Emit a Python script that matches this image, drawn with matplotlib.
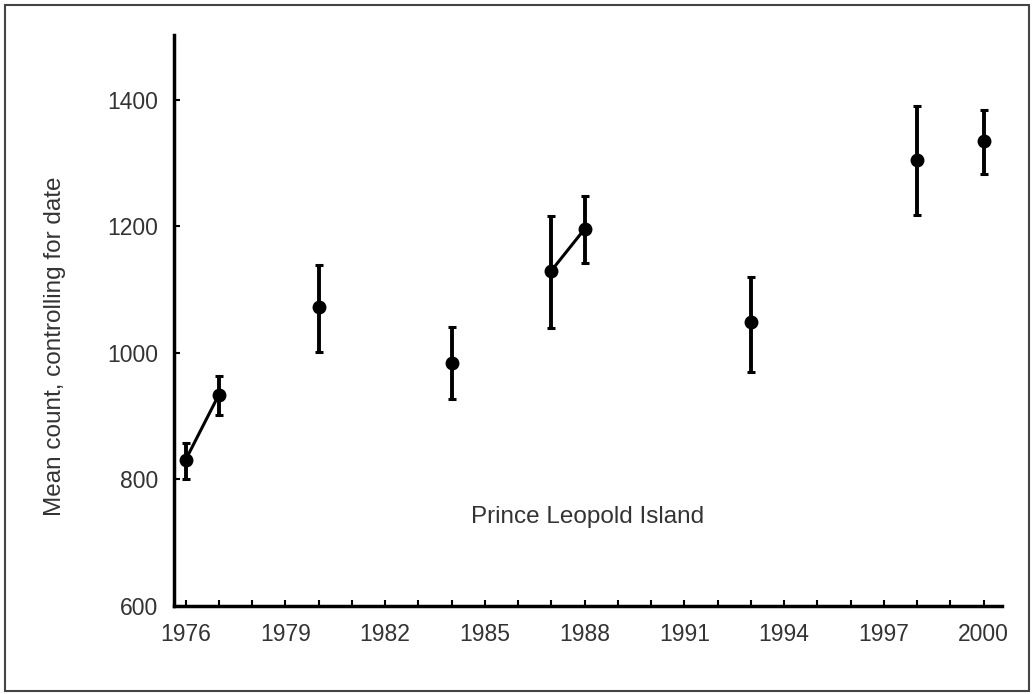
import matplotlib.pyplot as plt
from matplotlib.patches import Rectangle

plt.rcParams['font.family'] = ['Liberation Sans', 'DejaVu Sans']

# data
years = [1976, 1977, 1980, 1984, 1987, 1988, 1993, 1998, 2000]
means = [831, 934, 1073, 984, 1130, 1196, 1049, 1305, 1335]
err_hi = [857, 964, 1139, 1041, 1217, 1248, 1120, 1390, 1384]
err_lo = [800, 902, 1002, 927, 1040, 1142, 970, 1218, 1283]
# consecutive-year pairs joined by a line
joined = [(0, 1), (4, 5)]
xtick_years = [1976, 1979, 1982, 1985, 1988, 1991, 1994, 1997, 2000]
ytick_vals = [600, 800, 1000, 1200, 1400]

fig = plt.figure(figsize=(10.34, 6.94), dpi=100)
ax = fig.add_axes([0.168, 0.127, 0.801, 0.823])

lower = [m - lo for m, lo in zip(means, err_lo)]
upper = [hi - m for m, hi in zip(means, err_hi)]
ax.errorbar(years, means, yerr=[lower, upper], fmt='o', color='black',
            ms=9, elinewidth=2.8, capsize=3, capthick=2.2)
for a, b in joined:
    ax.plot([years[a], years[b]], [means[a], means[b]], color='black', lw=2.2)

ax.text(1988.1, 740, 'Prince Leopold Island', ha='center', va='center',
        fontsize=17.5, color='#333333')

ax.set_xlim(1975.64, 2000.55)
ax.set_ylim(600, 1503)
ax.set_xticks(xtick_years)
ax.set_xticks(range(1976, 2001), minor=True)
ax.set_yticks(ytick_vals)
ax.tick_params(axis='both', which='both', direction='in', length=4, width=1.5,
               labelsize=16.5, labelcolor='#333333')
ax.tick_params(axis='y', pad=11)
ax.tick_params(axis='x', pad=12)
ax.set_ylabel('Mean count, controlling for date', fontsize=17.5, color='#333333')
ax.yaxis.set_label_coords(-0.13, 0.454)

for side in ['top', 'right']:
    ax.spines[side].set_visible(False)
for side in ['left', 'bottom']:
    ax.spines[side].set_linewidth(2.5)

# frame around the whole picture
fig.patches.append(Rectangle((0.005, 0.004), 0.99, 0.989, transform=fig.transFigure,
                             fill=False, edgecolor='#444444', lw=1.5))

fig.savefig('out.png', dpi=100)
